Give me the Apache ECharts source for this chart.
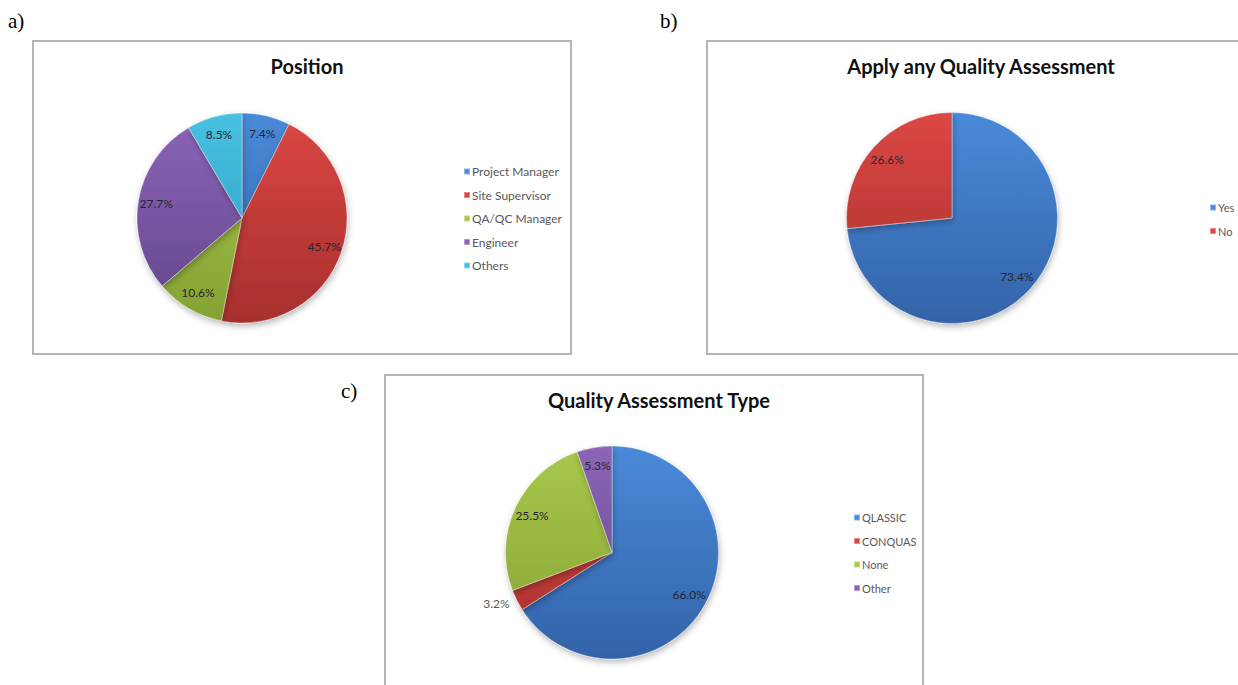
<!DOCTYPE html>
<html>
<head>
<meta charset="utf-8">
<script src="https://cdn.jsdelivr.net/npm/echarts@6/dist/echarts.min.js"></script>
<style>
  html, body { margin: 0; padding: 0; background: #ffffff; }
  #chart { width: 1238px; height: 685px; }
</style>
</head>
<body>
<div id="chart"></div>
<script>
// ---- Data ----
const positionTitle = 'Position';
const positionCategories = ['Project Manager', 'Site Supervisor', 'QA/QC Manager', 'Engineer', 'Others'];
const positionValues = [7.4, 45.7, 10.6, 27.7, 8.5];

const applyTitle = 'Apply any Quality Assessment';
const applyCategories = ['Yes', 'No'];
const applyValues = [73.4, 26.6];

const typeTitle = 'Quality Assessment Type';
const typeCategories = ['QLASSIC', 'CONQUAS', 'None', 'Other'];
const typeValues = [66.0, 3.2, 25.5, 5.3];

const panelLabels = ['a)', 'b)', 'c)'];

// ---- Styles ----
const palette = {
  blue:   ['#4a8ad9', '#3263a8'],
  red:    ['#dc4744', '#a62f2d'],
  green:  ['#a9c84c', '#84a233'],
  purple: ['#8c65b8', '#62458a'],
  cyan:   ['#48c0e2', '#2b9cbd']
};
const positionColors = ['blue', 'red', 'green', 'purple', 'cyan'];
const applyColors = ['blue', 'red'];
const typeColors = ['blue', 'red', 'green', 'purple'];

const labelFont = 'Lato, "Noto Sans", sans-serif';

function grad(key, cx, cy, r) {
  return {
    type: 'linear', global: true,
    x: cx, y: cy - r, x2: cx, y2: cy + r,
    colorStops: [{ offset: 0, color: palette[key][0] }, { offset: 1, color: palette[key][1] }]
  };
}

function piePair(names, values, colors, cx, cy, r, outsideIdx) {
  const visible = {
    type: 'pie', center: [cx, cy], radius: [0, r], startAngle: 90, clockwise: true,
    label: { show: false }, labelLine: { show: false },
    emphasis: { disabled: true }, animation: false,
    itemStyle: {
      borderColor: 'rgba(255,255,255,0.35)', borderWidth: 1,
      shadowBlur: 6, shadowColor: 'rgba(0,0,0,0.28)', shadowOffsetX: 1, shadowOffsetY: 3
    },
    data: names.map((n, i) => ({
      name: n, value: values[i],
      itemStyle: { color: grad(colors[i], cx, cy, r) }
    }))
  };
  const overlay = {
    type: 'pie', center: [cx, cy], radius: [r * 0.6, r], startAngle: 90, clockwise: true,
    silent: true, animation: false, legendHoverLink: false, avoidLabelOverlap: false,
    emphasis: { disabled: true },
    itemStyle: { color: 'rgba(0,0,0,0)', borderWidth: 0 },
    label: {
      show: true, position: 'inside', color: '#262633',
      fontSize: 12, fontFamily: labelFont,
      formatter: p => p.value.toFixed(1) + '%'
    },
    labelLine: { show: false, length: 8, length2: 0 },
    data: names.map((n, i) => {
      const d = { name: n, value: values[i] };
      if (i === outsideIdx) {
        d.label = { position: 'outside', color: '#595959', distanceToLabelLine: 0, padding: [12, 0, 0, 0] };
        d.labelLine = { show: false, length: 8, length2: 0 };
      }
      return d;
    })
  };
  return [visible, overlay];
}

function legend(names, left, top, fontSize) {
  return {
    data: names, orient: 'vertical', left: left, top: top,
    icon: 'rect', itemWidth: 6, itemHeight: 6, itemGap: 10.5,
    selectedMode: false,
    textStyle: { fontSize: fontSize, color: '#595959', fontFamily: labelFont, lineHeight: 13, padding: [0, 0, 0, -3] }
  };
}

const titleStyle = { fontSize: 20, fontWeight: 'bold', color: '#111111', fontFamily: labelFont, lineHeight: 22 };

const chart = echarts.init(document.getElementById('chart'), null, { renderer: 'svg' });
chart.setOption({
  backgroundColor: '#ffffff',
  animation: false,
  title: [
    { text: positionTitle, left: 302, top: 50, textAlign: 'center', textStyle: titleStyle },
    { text: applyTitle, left: 976, top: 50, textAlign: 'center', textStyle: titleStyle },
    { text: typeTitle, left: 654, top: 384, textAlign: 'center', textStyle: titleStyle }
  ],
  legend: [
    legend(positionCategories, 458, 160, 12),
    legend(applyCategories, 1204, 196, 11),
    legend(typeCategories, 848, 506, 11)
  ],
  graphic: [
    { type: 'rect', shape: { x: 33, y: 41, width: 538, height: 313 }, style: { fill: 'none', stroke: '#b5b5b5', lineWidth: 2 }, silent: true },
    { type: 'rect', shape: { x: 707, y: 41, width: 540, height: 313 }, style: { fill: 'none', stroke: '#b5b5b5', lineWidth: 2 }, silent: true },
    { type: 'rect', shape: { x: 385, y: 375, width: 538, height: 320 }, style: { fill: 'none', stroke: '#b5b5b5', lineWidth: 2 }, silent: true },
    { type: 'text', x: 8, y: 21, style: { text: panelLabels[0], font: '21px "Liberation Serif", "DejaVu Serif", serif', fill: '#000', textVerticalAlign: 'middle' }, silent: true },
    { type: 'text', x: 660, y: 21, style: { text: panelLabels[1], font: '21px "Liberation Serif", "DejaVu Serif", serif', fill: '#000', textVerticalAlign: 'middle' }, silent: true },
    { type: 'text', x: 341, y: 391, style: { text: panelLabels[2], font: '21px "Liberation Serif", "DejaVu Serif", serif', fill: '#000', textVerticalAlign: 'middle' }, silent: true }
  ],
  series: [
    ...piePair(positionCategories, positionValues, positionColors, 242, 218, 105, -1),
    ...piePair(applyCategories, applyValues, applyColors, 952, 218, 105.5, -1),
    ...piePair(typeCategories, typeValues, typeColors, 612, 552.5, 106.5, 1)
  ]
});
</script>
</body>
</html>
